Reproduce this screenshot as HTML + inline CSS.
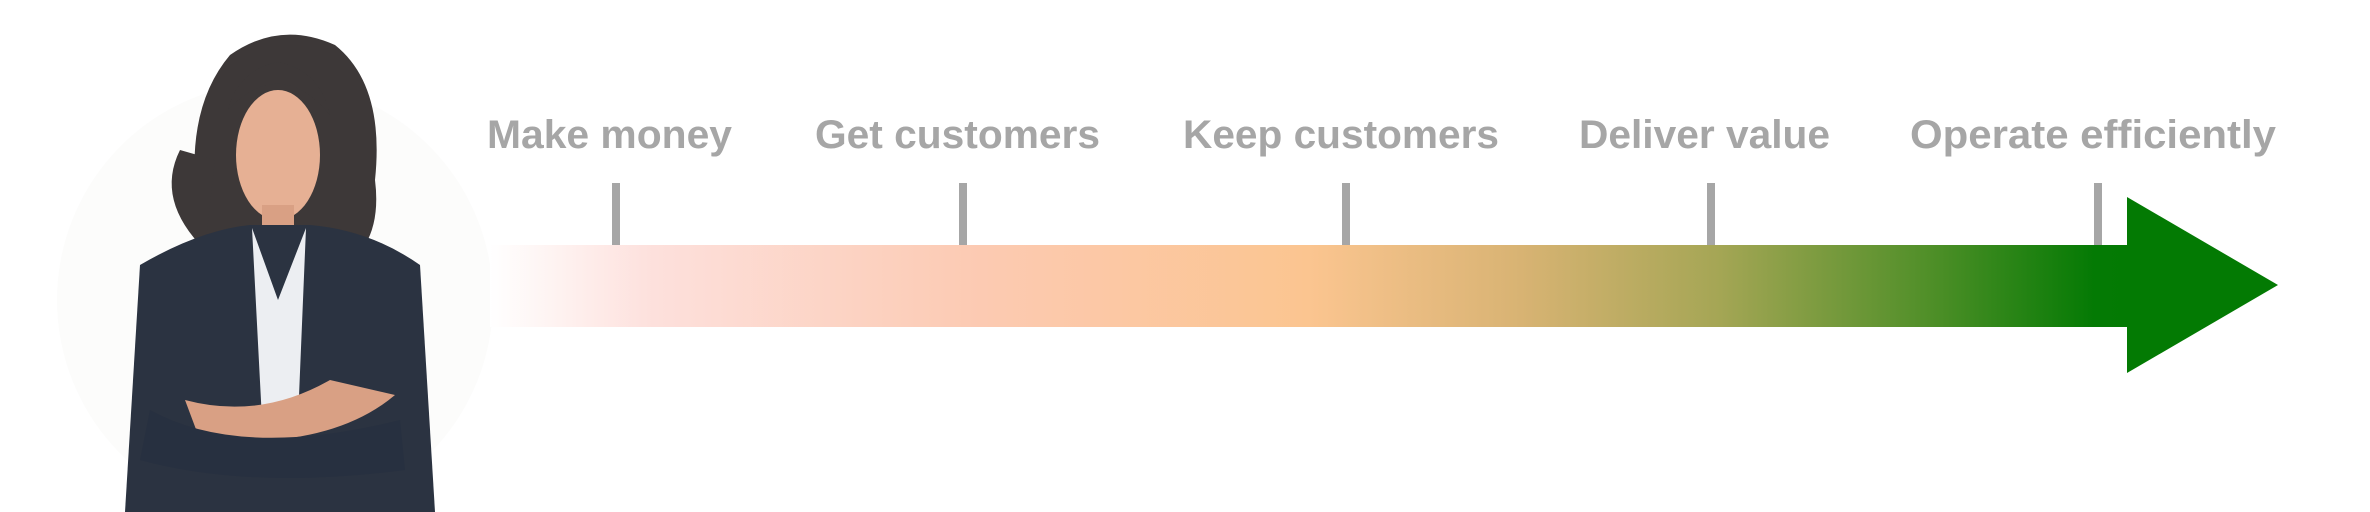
<!DOCTYPE html>
<html><head><meta charset="utf-8"><style>html,body{margin:0;padding:0;background:#fff;width:2370px;height:512px;overflow:hidden}</style></head>
<body>
<svg width="2370" height="512" viewBox="0 0 2370 512" xmlns="http://www.w3.org/2000/svg">
<defs>
<linearGradient id="g" x1="490" y1="0" x2="2127" y2="0" gradientUnits="userSpaceOnUse">
<stop offset="0" stop-color="#ffffff"/>
<stop offset="0.1" stop-color="#fde0dc"/>
<stop offset="0.3" stop-color="#fccab2"/>
<stop offset="0.5" stop-color="#fbc590"/>
<stop offset="0.63" stop-color="#d8b373"/>
<stop offset="0.75" stop-color="#a5a655"/>
<stop offset="0.88" stop-color="#4f8f28"/>
<stop offset="0.98" stop-color="#047a04"/>
<stop offset="1" stop-color="#037a03"/>
</linearGradient>
</defs>
<circle cx="275" cy="300" r="218" fill="#fcfcfb"/>
<!-- figure -->
<path d="M205 250 Q175 120 230 55 Q280 20 335 45 Q385 85 375 180 Q380 220 365 245 L205 250Z" fill="#3d3838"/>
<path d="M180 150 Q155 200 205 250 L215 160Z" fill="#3d3838"/>
<ellipse cx="278" cy="155" rx="42" ry="65" fill="#e6b094"/>
<path d="M228 110 Q280 55 330 115 Q320 70 278 62 Q238 70 228 110Z" fill="#3d3838"/>
<rect x="262" y="205" width="32" height="45" fill="#d9a084"/>
<path d="M140 265 Q200 230 250 225 L310 225 Q370 230 420 265 L435 512 L125 512Z" fill="#2b3341"/>
<path d="M252 228 L278 300 L306 228 L298 420 L262 420Z" fill="#eceef2"/>
<path d="M185 400 Q260 420 330 380 L395 395 Q330 450 200 440Z" fill="#d9a084"/>
<path d="M150 410 Q240 460 400 420 L405 470 Q250 490 140 460Z" fill="#273040"/>
<!-- bar -->
<rect x="490" y="245" width="1640" height="82" fill="url(#g)"/>
<polygon points="2127,197 2278,285 2127,373" fill="#037a03"/>
<!-- ticks -->
<g fill="#a6a6a6">
<rect x="612" y="183" width="8" height="62"/>
<rect x="959" y="183" width="8" height="62"/>
<rect x="1342" y="183" width="8" height="62"/>
<rect x="1707" y="183" width="8" height="62"/>
<rect x="2094" y="183" width="8" height="62"/>
</g>
<g font-family="Liberation Sans, sans-serif" font-weight="bold" font-size="40" fill="#a6a6a6">
<text x="487" y="148" textLength="245" lengthAdjust="spacingAndGlyphs">Make money</text>
<text x="815" y="148" textLength="285" lengthAdjust="spacingAndGlyphs">Get customers</text>
<text x="1183" y="148" textLength="316" lengthAdjust="spacingAndGlyphs">Keep customers</text>
<text x="1579" y="148" textLength="251" lengthAdjust="spacingAndGlyphs">Deliver value</text>
<text x="1910" y="148" textLength="366" lengthAdjust="spacingAndGlyphs">Operate efficiently</text>
</g>
</svg>
</body></html>
